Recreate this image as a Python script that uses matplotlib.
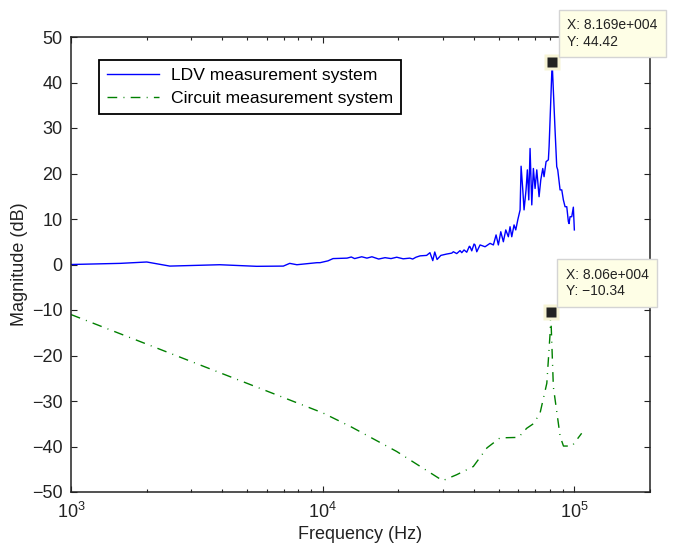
import matplotlib
matplotlib.use("Agg")
import matplotlib.pyplot as plt
import numpy as np

plt.rcParams['font.family'] = ['Liberation Sans', 'DejaVu Sans']
plt.rcParams['mathtext.fontset'] = 'custom'
plt.rcParams['mathtext.rm'] = 'Liberation Sans'
plt.rcParams['mathtext.it'] = 'Liberation Sans:italic'

# LDV measurement system (frequency Hz, magnitude dB)
ldv_freq = [1000, 1570, 2000, 2470, 3900, 5470, 6980, 7400, 7900, 9500, 9770,
            10500, 11000, 12500, 13000, 13400, 14300, 15000, 15700, 16700, 17700,
            18700, 19700, 20900, 22200, 22800, 23500, 24400, 25900, 26700, 27400,
            27900, 28500, 29500, 31130, 32600, 33080, 34120, 35160, 35730, 36480,
            37390, 38290, 38540, 39140, 39970, 40340, 40980, 42240, 44210, 46280,
            47710, 48900, 49940, 51050, 52270, 53440, 54720, 55570, 56450, 57640,
            58550, 59640, 60920, 61480, 62440, 63170, 64330, 65110, 65960, 66740,
            67800, 68800, 69870, 70970, 72470, 73620, 74970, 75860, 77260, 78910,
            79430, 80150, 81690, 83880, 85190, 85980, 87830, 89200, 90520, 91930,
            93380, 94760, 95360, 96240, 97730, 99180, 100090]
ldv_db = [0.0, 0.25, 0.55, -0.35, -0.05, -0.4, -0.35, 0.25, -0.05, 0.4, 0.4,
          0.8, 1.3, 1.4, 1.65, 1.3, 1.7, 1.4, 1.7, 1.2, 1.5,
          1.3, 1.6, 1.25, 1.4, 1.2, 1.6, 1.9, 2.0, 2.6, 0.85,
          2.75, 1.1, 2.0, 2.3, 2.5, 2.8, 2.4, 3.05, 2.6, 3.2,
          2.7, 4.0, 3.9, 3.0, 4.5, 4.3, 2.8, 4.3, 3.9, 4.65,
          4.3, 6.5, 4.3, 7.2, 5.0, 7.6, 6.1, 8.3, 6.1, 8.7,
          7.6, 9.8, 12.0, 21.6, 16.4, 12.0, 16.4, 20.8, 14.2, 25.5,
          13.1, 21.1, 16.7, 20.8, 14.9, 18.6, 21.1, 19.3, 22.6, 23.0,
          25.9, 31.8, 44.42, 29.6, 21.5, 20.8, 16.4, 16.4, 14.2, 12.7,
          12.7, 9.4, 9.0, 10.5, 10.5, 12.6, 7.6]

# Circuit measurement system
cir_freq = [1000, 10000, 12900, 19700, 29400, 30000, 34100, 39700, 45000, 50700,
            60000, 64700, 68800, 73100, 77800, 80200, 80600, 82600, 87900, 90600,
            98000, 107000]
cir_db = [-11.0, -32.6, -35.6, -41.1, -47.2, -47.5, -46.2, -44.4, -40.3, -38.1,
          -38.0, -36.0, -35.0, -32.7, -26.1, -15.0, -10.34, -26.9, -37.8, -39.9,
          -39.9, -37.1]

# Data tips
tip_x = [81690, 80600]
tip_y = [44.42, -10.34]
tip_labels = ["X: 8.169e+004\nY: 44.42", "X: 8.06e+004\nY: \u221210.34"]

xticks = [1e3, 1e4, 1e5]
yticks = list(range(-50, 51, 10))

W, H = 674, 545
fig = plt.figure(figsize=(W / 100, H / 100), dpi=100)
L, R, T, B = 71, 650, 37, 492
ax = fig.add_axes([L / W, 1 - B / H, (R - L) / W, (B - T) / H])

ax.semilogx(ldv_freq, ldv_db, color='#0000FF', lw=1.0, label='LDV measurement system')
ax.semilogx(cir_freq, cir_db, color='#008000', lw=1.0,
            ls=(0, (7, 4.5, 0.7, 4.5)), label='Circuit measurement system')

ax.set_xlim(1e3, 2e5)
ax.set_ylim(-50, 50)
ax.set_xticks(xticks)
ax.set_yticks(yticks)
ax.tick_params(which='both', direction='in', top=True, right=True,
               labelsize=13, width=0.8, colors='#222222')
ax.tick_params(which='major', length=4)
ax.tick_params(which='minor', length=2.2)
ax.tick_params(axis='x', pad=7)
ax.tick_params(axis='y', pad=6)
for s in ax.spines.values():
    s.set_linewidth(1.1)
    s.set_color('#222222')

ax.set_xlabel('Frequency (Hz)', fontsize=13, labelpad=3, color='#222222')
ax.set_ylabel('Magnitude (dB)', fontsize=13, labelpad=3, color='#222222')

leg = ax.legend(loc='upper left', bbox_to_anchor=(0.048, 0.949), borderaxespad=0,
                fancybox=False, edgecolor='black', framealpha=1, fontsize=12.6,
                handlelength=3.0, borderpad=0.45, labelspacing=0.42, handletextpad=0.7)
leg.get_frame().set_linewidth(1.3)

for x, y, txt in zip(tip_x, tip_y, tip_labels):
    ax.plot([x], [y], marker='s', ms=11.5, color='#F7F4D6', mec='none', zorder=5)
    ax.plot([x], [y], marker='s', ms=7.2, color='#222222', mec='none', zorder=6)
    ax.annotate(txt, xy=(x, y), xytext=(15, 44), textcoords='offset pixels',
                ha='left', va='top', fontsize=10, color='#222222', linespacing=1.25,
                annotation_clip=False, zorder=7,
                bbox=dict(boxstyle='square,pad=0.6', fc='#FEFEE6', ec='#D4D4D4', lw=1))

fig.savefig('out.png', dpi=100)
